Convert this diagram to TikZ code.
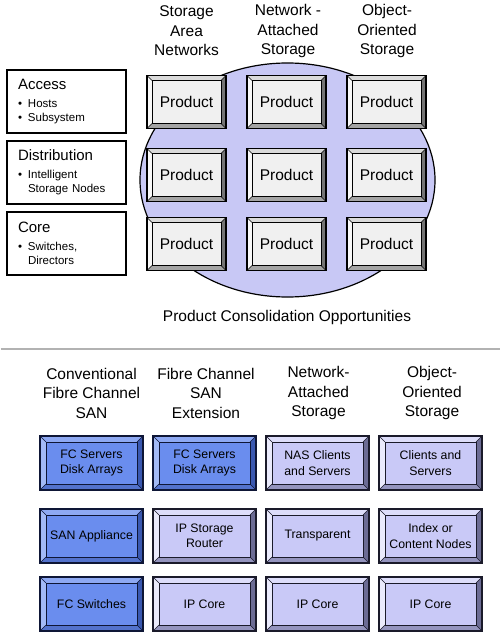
\documentclass[tikz,border=0pt]{standalone}
\usepackage{fontspec}
\setmainfont{Liberation Sans}
\usetikzlibrary{positioning}
\definecolor{ConsolLilac}{HTML}{C8C8F5}
\definecolor{ProdFace}{HTML}{F0F0F0}
\definecolor{ProdTop}{HTML}{DADADA}
\definecolor{ProdLeft}{HTML}{F8F8F8}
\definecolor{ProdRight}{HTML}{747474}
\definecolor{ProdBottom}{HTML}{A4A4A4}
\definecolor{SANFace}{HTML}{6A8DEE}
\definecolor{SANTop}{HTML}{8EA9F3}
\definecolor{SANLeft}{HTML}{A3BAF6}
\definecolor{SANRight}{HTML}{3A58B0}
\definecolor{SANBottom}{HTML}{5372CC}
\definecolor{SANEdge}{HTML}{0E1636}
\definecolor{IPFace}{HTML}{C9C9F7}
\definecolor{IPTop}{HTML}{DDDDFA}
\definecolor{IPLeft}{HTML}{EAEAFC}
\definecolor{IPRight}{HTML}{6C6C94}
\definecolor{IPBottom}{HTML}{9494BE}
\definecolor{IPEdge}{HTML}{1A1A2A}
\newcommand{\lbul}{\makebox[10pt][l]{\textbullet}}
\newcommand{\titlefont}{\fontsize{15}{18}\selectfont}
\tikzset{
  bevel width/.store in=\bevw, bevel width=5pt,
  % raised button: top, left, right, bottom, edge colours
  bevel/.style n args={5}{rectangle, draw=#5, line width=1.3pt, outer sep=0pt,
    path picture={
      \coordinate (bnw) at (path picture bounding box.north west);
      \coordinate (bne) at (path picture bounding box.north east);
      \coordinate (bsw) at (path picture bounding box.south west);
      \coordinate (bse) at (path picture bounding box.south east);
      \coordinate (inw) at ([xshift=\bevw, yshift=-\bevw]bnw);
      \coordinate (ine) at ([xshift=-\bevw, yshift=-\bevw]bne);
      \coordinate (isw) at ([xshift=\bevw, yshift=\bevw]bsw);
      \coordinate (ise) at ([xshift=-\bevw, yshift=\bevw]bse);
      \fill[#1] (bnw) -- (bne) -- (ine) -- (inw) -- cycle;
      \fill[#2] (bnw) -- (bsw) -- (isw) -- (inw) -- cycle;
      \fill[#3] (bne) -- (bse) -- (ise) -- (ine) -- cycle;
      \fill[#4] (bsw) -- (bse) -- (ise) -- (isw) -- cycle;
      \draw[#5, line width=0.5pt] (bnw) -- (inw) (bne) -- (ine) (bsw) -- (isw) (bse) -- (ise);
      \draw[#5, line width=0.9pt] (inw) rectangle (ise);
    }},
}
\begin{document}
\begin{tikzpicture}[x=1pt, y=1pt,
    every node/.style={font=\fontsize{15.5}{19.5}\selectfont},
    heading/.style={align=center, inner sep=0pt},
    layer/.style={rectangle, draw=black, line width=1.2pt, fill=white, outer sep=0pt, text width=97pt, inner xsep=11pt, minimum height=63pt, align=left, font=\fontsize{11.5}{14}\selectfont},
    product/.style={bevel={ProdTop}{ProdLeft}{ProdRight}{ProdBottom}{black}, fill=ProdFace, minimum width=79pt, minimum height=53pt},
    sanbox/.style={bevel={SANTop}{SANLeft}{SANRight}{SANBottom}{SANEdge}, bevel width=6pt, fill=SANFace, minimum width=103pt, minimum height=54pt, align=center, font=\fontsize{12.3}{15.5}\selectfont},
    ipbox/.style={bevel={IPTop}{IPLeft}{IPRight}{IPBottom}{IPEdge}, bevel width=6pt, fill=IPFace, minimum width=103pt, minimum height=54pt, align=center, font=\fontsize{12.3}{15.5}\selectfont},
    sepline/.style={draw=black!30, line width=1.6pt}
]
\useasboundingbox (0,0) rectangle (500,-634);

% Top: product consolidation
\draw[fill=ConsolLilac, line width=1.2pt] (287.5,-180) ellipse [x radius=147.5, y radius=117];

\node[heading] (hsan) at (186.5,-31) {Storage\\Area\\Networks};
\node[heading] (hnas) at (288,-31) {Network -\\Attached\\Storage};
\node[heading] (hobj) at (387,-31) {Object-\\Oriented\\Storage};

\node[layer, anchor=north west] (access) at (7,-70) {{\titlefont Access}\\[4pt]\lbul Hosts\\\lbul Subsystem};
\node[layer, below=8pt of access] (distrib) {{\titlefont Distribution}\\[4pt]\lbul Intelligent\\\hspace*{10pt}Storage Nodes};
\node[layer, below=8pt of distrib] (core) {{\titlefont Core}\\[4pt]\lbul Switches,\\\hspace*{10pt}Directors};

\node[product] (sanA) at (186.5,-102) {Product};
\node[product, right=21pt of sanA] (nasA) {Product};
\node[product, right=21pt of nasA] (objA) {Product};
\node[product] (sanB) at (186.5,-175) {Product};
\node[product, right=21pt of sanB] (nasB) {Product};
\node[product, right=21pt of nasB] (objB) {Product};
\node[product] (sanC) at (186.5,-244) {Product};
\node[product, right=21pt of sanC] (nasC) {Product};
\node[product, right=21pt of nasC] (objC) {Product};

\node (consol) at (287,-317) {Product Consolidation Opportunities};

\draw[sepline] (0.5,-349) -- (499.5,-349);

% Bottom: SAN to IP storage
\node[heading] (hfc) at (91.5,-393) {Conventional\\Fibre Channel\\SAN};
\node[heading] (hext) at (206,-393) {Fibre Channel\\SAN\\Extension};
\node[heading] (hnas2) at (318.5,-393) {Network-\\Attached\\Storage};
\node[heading] (hobj2) at (432,-393) {Object-\\Oriented\\Storage};

\node[sanbox] (fcHost) at (91.5,-463) {FC Servers\\Disk Arrays};
\node[sanbox, right=10pt of fcHost] (extHost) {FC Servers\\Disk Arrays};
\node[ipbox, right=10pt of extHost] (nasHost) {NAS Clients\\and Servers};
\node[ipbox, right=10pt of nasHost] (objHost) {Clients and\\Servers};

\node[sanbox, below=19pt of fcHost] (fcMid) {SAN Appliance};
\node[ipbox, right=10pt of fcMid] (extMid) {IP Storage\\Router};
\node[ipbox, right=10pt of extMid] (nasMid) {Transparent};
\node[ipbox, right=10pt of nasMid] (objMid) {Index or\\Content Nodes};

\node[sanbox, below=14pt of fcMid] (fcCore) {FC Switches};
\node[ipbox, right=10pt of fcCore] (extCore) {IP Core};
\node[ipbox, right=10pt of extCore] (nasCore) {IP Core};
\node[ipbox, right=10pt of nasCore] (objCore) {IP Core};

\end{tikzpicture}
\end{document}
